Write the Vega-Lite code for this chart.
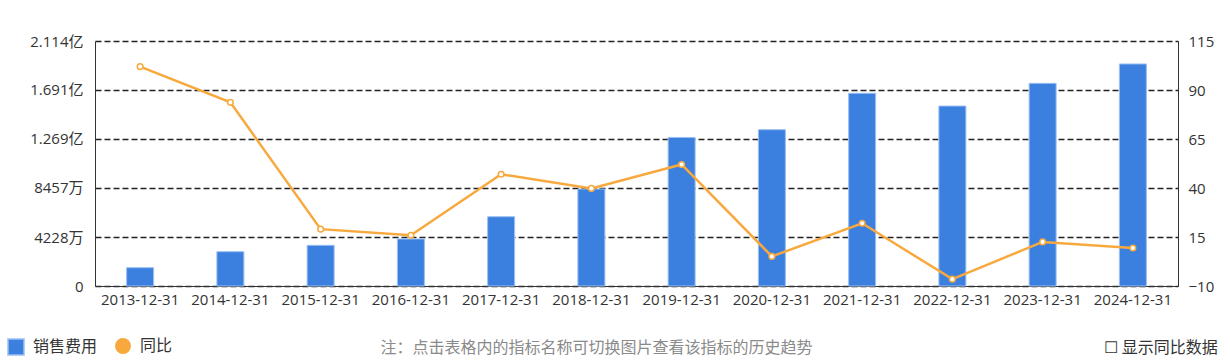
{
  "$schema": "https://vega.github.io/schema/vega-lite/v6.json",
  "width": 1083,
  "height": 245,
  "autosize": {"type": "none"},
  "padding": {"left": 95, "top": 41, "right": 52, "bottom": 77},
  "background": "white",
  "config": {
    "font": "Open Sans, Noto Sans CJK SC",
    "view": {"stroke": null}
  },
  "data": {
    "values": [
      {"date": "2013-12-31", "sales": 15800000, "yoy": 101.9},
      {"date": "2014-12-31", "sales": 29600000, "yoy": 83.7},
      {"date": "2015-12-31", "sales": 35100000, "yoy": 19.0},
      {"date": "2016-12-31", "sales": 40600000, "yoy": 15.9},
      {"date": "2017-12-31", "sales": 59800000, "yoy": 47.0},
      {"date": "2018-12-31", "sales": 83700000, "yoy": 39.8},
      {"date": "2019-12-31", "sales": 128200000, "yoy": 52.0},
      {"date": "2020-12-31", "sales": 134900000, "yoy": 5.1},
      {"date": "2021-12-31", "sales": 166300000, "yoy": 22.0},
      {"date": "2022-12-31", "sales": 155300000, "yoy": -6.5},
      {"date": "2023-12-31", "sales": 174900000, "yoy": 12.5},
      {"date": "2024-12-31", "sales": 191600000, "yoy": 9.4}
    ]
  },
  "encoding": {
    "x": {
      "field": "date",
      "type": "ordinal",
      "sort": null,
      "scale": {"paddingInner": 0, "paddingOuter": 0},
      "axis": {
        "labelAngle": 0,
        "labelFontSize": 15,
        "labelColor": "#333333",
        "labelPadding": 6,
        "ticks": false,
        "domainColor": "#333333",
        "domainWidth": 1,
        "title": "注：点击表格内的指标名称可切换图片查看该指标的历史趋势",
        "titleFontSize": 16,
        "titleFontWeight": "normal",
        "titleColor": "#8a8a8a",
        "titleAnchor": "start",
        "titleAlign": "left",
        "titleBaseline": "middle",
        "titleX": 285,
        "titleY": 61
      }
    }
  },
  "layer": [
    {
      "mark": {"type": "bar", "size": 27, "stroke": "#9cc0f2", "strokeWidth": 1},
      "encoding": {
        "y": {
          "field": "sales",
          "type": "quantitative",
          "scale": {"domain": [0, 211420000], "nice": false, "zero": true},
          "axis": {
            "orient": "left",
            "title": null,
            "values": [0, 42280000, 84570000, 126860000, 169140000, 211420000],
            "labelExpr": "datum.value == 0 ? '0' : (datum.value >= 100000000 ? format(datum.value / 100000000, '.3f') + '亿' : format(datum.value / 10000, 'd') + '万')",
            "labelFontSize": 15,
            "labelColor": "#333333",
            "labelPadding": 12,
            "ticks": false,
            "domainColor": "#333333",
            "grid": true,
            "gridColor": "#222222",
            "gridDash": [6, 3],
            "gridWidth": 1.4
          }
        },
        "color": {
          "datum": "销售费用",
          "type": "nominal",
          "scale": {"domain": ["销售费用"], "range": ["#3c80df"]},
          "legend": {
            "title": null,
            "orient": "none",
            "legendX": -88,
            "legendY": 297,
            "direction": "horizontal",
            "symbolSize": 256,
            "symbolType": "square",
            "labelFontSize": 16,
            "labelColor": "#333333",
            "labelOffset": 8,
            "encode": {
              "symbols": {
                "update": {
                  "fill": {"value": "#3c80df"},
                  "stroke": {"value": "#3c80df"},
                  "opacity": {"value": 1},
                  "fillOpacity": {"value": 1}
                }
              }
            }
          }
        }
      }
    },
    {
      "mark": {
        "type": "line",
        "strokeWidth": 2.5,
        "point": {"filled": false, "fill": "white", "size": 32, "strokeWidth": 1.5}
      },
      "encoding": {
        "y": {
          "field": "yoy",
          "type": "quantitative",
          "scale": {"domain": [-10, 115], "nice": false, "zero": false},
          "axis": {
            "orient": "right",
            "values": [-10, 15, 40, 65, 90, 115],
            "labelFontSize": 15,
            "labelColor": "#333333",
            "labelPadding": 10,
            "ticks": false,
            "domainColor": "#333333",
            "grid": false,
            "title": "☐  显示同比数据",
            "titleAngle": 0,
            "titleFontSize": 16,
            "titleFontWeight": "normal",
            "titleColor": "#333333",
            "titleAlign": "left",
            "titleBaseline": "middle",
            "titleX": -75,
            "titleY": 306
          }
        },
        "color": {
          "datum": "同比",
          "type": "nominal",
          "scale": {"domain": ["同比"], "range": ["#f8a93e"]},
          "legend": {
            "title": null,
            "orient": "none",
            "legendX": 20,
            "legendY": 297,
            "direction": "horizontal",
            "symbolSize": 180,
            "symbolType": "circle",
            "labelFontSize": 16,
            "labelColor": "#333333",
            "labelOffset": 9,
            "encode": {
              "symbols": {
                "update": {
                  "fill": {"value": "#f8a93e"},
                  "stroke": {"value": "#fcd49c"},
                  "strokeWidth": {"value": 2.5},
                  "opacity": {"value": 1},
                  "fillOpacity": {"value": 1}
                }
              }
            }
          }
        }
      }
    }
  ],
  "resolve": {"scale": {"y": "independent", "color": "independent"}}
}
